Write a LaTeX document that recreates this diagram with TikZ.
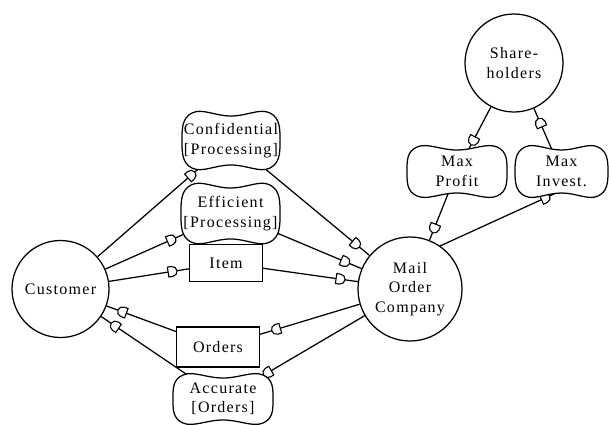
\documentclass[tikz,border=0pt]{standalone}
\usepackage{fontspec}
\setmainfont{Liberation Serif}[LetterSpace=8]
\usetikzlibrary{decorations.markings,calc}
\pgfdeclarelayer{bg}
\pgfdeclarelayer{mid}
\pgfsetlayers{bg,mid,main}
\newcommand\depD{\draw[fill=white,line width=1.1pt] (-4pt,-5pt) -- (0pt,-5pt) arc[start angle=-90,end angle=90,radius=5pt] -- (-4pt,5pt) -- cycle;}
\newcommand\softgoal[3]{%
  \begin{scope}[shift={(#1.center)}]
  \draw[line width=1.25pt,fill=white] plot[smooth cycle, tension=0.75] coordinates {
    ({-#2},0) ({-#2+10},{-#3}) (0,{-#3+3}) ({#2-10},{-#3})
    ({#2},0) ({#2-10},{#3}) (0,{#3-3}) ({-#2+10},{#3})};
  \end{scope}}
\begin{document}
\begin{tikzpicture}[x=1pt,y=-1pt,
  every node/.style={font=\fontsize{16}{19.5}\selectfont, text=black},
  actor/.style={circle, draw, line width=1.25pt, inner sep=0pt, align=center},
  res/.style={draw, line width=1.25pt, fill=white, inner sep=0pt},
  soft/.style={align=center, inner sep=0pt},
  link/.style={line width=1.25pt},
  dep/.style={postaction={decorate,decoration={markings,mark=at position #1 with {\depD}}}}]
\useasboundingbox (0,0) rectangle (609,424);
% actors
\node[actor, minimum size=97pt] (cust) at (60.5,289) {Customer};
\node[actor, minimum size=104pt] (mail) at (410,289) {Mail\\Order\\Company};
\node[actor, minimum size=98pt] (share) at (514,63) {Share-\\holders};
% resources
\node[res, minimum width=73pt, minimum height=37pt] (item) at (226,263) {Item};
\node[res, minimum width=83pt, minimum height=40pt] (orders) at (218,347) {Orders};
% softgoals
\node[soft] (conf) at (231,140.5) {Confidential\\{}[Processing]};
\node[soft] (eff) at (230.5,213.5) {Efficient\\{}[Processing]};
\node[soft] (acc) at (223,399) {Accurate\\{}[Orders]};
\node[soft] (mp) at (457,171.5) {Max\\Profit};
\node[soft] (mi) at (561.5,171.5) {Max\\Invest.};
\begin{pgfonlayer}{mid}
\softgoal{conf}{49}{27.5}
\softgoal{eff}{49.5}{28.5}
\softgoal{acc}{50}{24}
\softgoal{mp}{50}{24.5}
\softgoal{mi}{46.5}{24.5}
\end{pgfonlayer}
\begin{pgfonlayer}{bg}
\draw[link,dep=-53pt] (cust) -- (conf.center);
\draw[link,dep=-65pt] (cust) -- (eff.center);
\draw[link,dep=-17pt] (cust) -- (item);
\draw[link,dep=-17pt] (orders) -- (cust);
\draw[link,dep=-17pt] (acc.center) -- (cust);
\draw[link,dep=-18pt] (conf.center) -- (mail);
\draw[link,dep=-18pt] (eff.center) -- (mail);
\draw[link,dep=-18pt] (item) -- (mail);
\draw[link,dep=-17pt] (mail) -- (orders);
\draw[link,dep=-52pt] (mail) -- (acc.center);
\draw[link,dep=-13pt] (mp.center) -- (mail);
\draw[link,dep=-18pt] (mail.55) -- ($(mi.center)+(0,19)$);
\draw[link,dep=-35pt] (share) -- (mp.center);
\draw[link,dep=-16pt] (mi.center) -- (share);
\end{pgfonlayer}
\end{tikzpicture}
\end{document}
